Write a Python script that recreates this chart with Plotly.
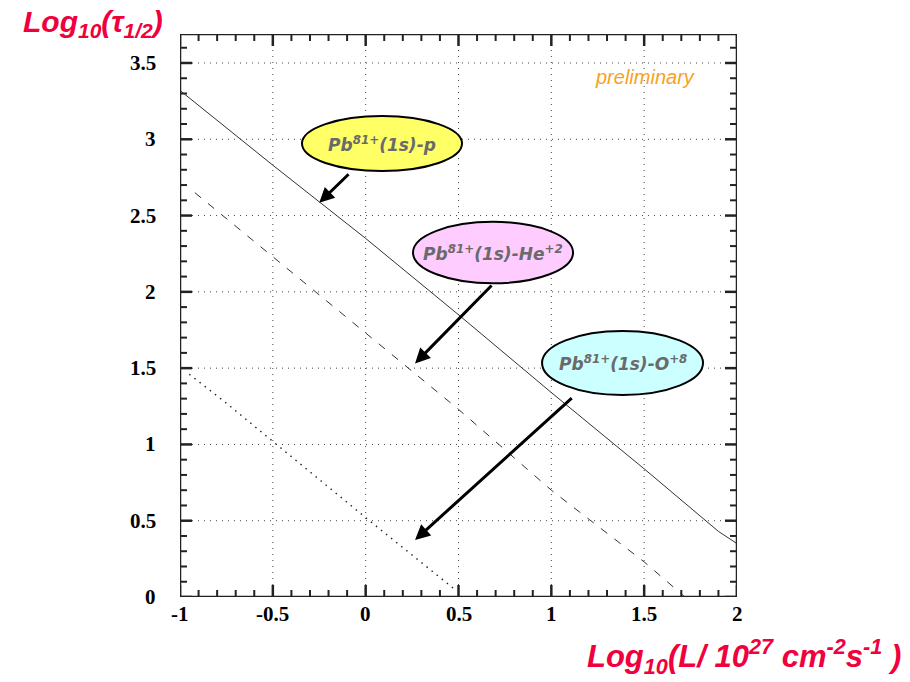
import numpy as np
import plotly.graph_objects as go

# Half-life vs. luminosity for Pb81+(1s) colliding with p, He+2 and O+8
x_p = [-1.0, -0.5, 0.0, 0.5, 1.0, 1.5, 1.9, 2.0]
y_p = [3.32, 2.83, 2.35, 1.85, 1.34, 0.84, 0.43, 0.35]

x_he = [-0.92, -0.5, 0.0, 0.5, 1.0, 1.5, 1.72]
y_he = [2.65, 2.23, 1.73, 1.23, 0.70, 0.23, 0.0]

x_o = [-0.95, -0.75, -0.5, 0.0, 0.49]
y_o = [1.46, 1.27, 1.02, 0.52, 0.04]

x_ticks = [-1, -0.5, 0, 0.5, 1, 1.5, 2]
x_ticklabels = ["-1", "-0.5", "0", "0.5", "1", "1.5", "2"]
y_ticks = [0, 0.5, 1, 1.5, 2, 2.5, 3, 3.5]
y_ticklabels = ["0", "0.5", "1", "1.5", "2", "2.5", "3", "3.5"]

X_RANGE = (-1.0, 2.0)
Y_RANGE = (0.0, 3.69)

W, H = 910, 682
L, R, T, B = 180, 737, 34, 597  # plot frame in pixels
PW, PH = R - L, B - T
PPX = PW / (X_RANGE[1] - X_RANGE[0])  # pixels per x unit
PPY = PH / (Y_RANGE[1] - Y_RANGE[0])  # pixels per y unit


def px(xp):
    return (xp - L) / PW


def py(yp):
    return (B - yp) / PH


def segments(pairs):
    xs, ys = [], []
    for (xa, ya), (xb, yb) in pairs:
        xs += [xa, xb, None]
        ys += [ya, yb, None]
    return xs, ys


fig = go.Figure()
frame_col = "#222222"
x0, x1 = X_RANGE
y0, y1 = Y_RANGE

# dotted grid at the major tick positions
grid = [((v, y0), (v, y1)) for v in x_ticks[1:-1]] + \
       [((x0, v), (x1, v)) for v in y_ticks[1:]]
gx, gy = segments(grid)
fig.add_trace(go.Scatter(x=gx, y=gy, mode="lines", hoverinfo="skip",
                         line=dict(color="#444444", width=1, dash="1px,5px")))

# inward ticks on all four sides: major every 0.5, minor every 0.1
major, minor = [], []
for v in np.round(np.arange(x0, x1 + 1e-9, 0.1), 2):
    is_major = abs(v * 2 - round(v * 2)) < 1e-6
    ln = (12 if is_major else 7) / PPY
    segs = [((v, y0), (v, y0 + ln)), ((v, y1), (v, y1 - ln))]
    (major if is_major else minor).extend(segs)
for v in np.round(np.arange(y0, 3.6 + 1e-9, 0.1), 2):
    is_major = abs(v * 2 - round(v * 2)) < 1e-6
    ln = (12 if is_major else 7) / PPX
    segs = [((x0, v), (x0 + ln, v)), ((x1, v), (x1 - ln, v))]
    (major if is_major else minor).extend(segs)
for segs, w in ((minor, 2), (major, 2.5)):
    tx, ty = segments(segs)
    fig.add_trace(go.Scatter(x=tx, y=ty, mode="lines", hoverinfo="skip",
                             cliponaxis=False,
                             line=dict(color=frame_col, width=w)))

line_col = "#333333"
fig.add_trace(go.Scatter(x=x_p, y=y_p, mode="lines",
                         line=dict(color=line_col, width=1)))
fig.add_trace(go.Scatter(x=x_he, y=y_he, mode="lines",
                         line=dict(color=line_col, width=1, dash="8px,9px")))
fig.add_trace(go.Scatter(x=x_o, y=y_o, mode="lines",
                         line=dict(color="#222222", width=1.4, dash="1.5px,5px")))

# frame
fig.add_trace(go.Scatter(x=[x0, x1, x1, x0, x0], y=[y0, y0, y1, y1, y0],
                         mode="lines", hoverinfo="skip", cliponaxis=False,
                         line=dict(color=frame_col, width=2.5)))

fig.update_xaxes(range=list(X_RANGE), showgrid=False, zeroline=False,
                 showline=False, ticks="", showticklabels=False)
fig.update_yaxes(range=list(Y_RANGE), showgrid=False, zeroline=False,
                 showline=False, ticks="", showticklabels=False)

# Tick labels (bold serif, plain hyphen minus)
tick_font = dict(family="Liberation Serif", size=21, color="black")
for v, t in zip(x_ticks, x_ticklabels):
    fig.add_annotation(x=v, y=py(614), xref="x", yref="paper", text=f"<b>{t}</b>",
                       showarrow=False, xanchor="center", yanchor="middle",
                       font=tick_font)
for v, t in zip(y_ticks, y_ticklabels):
    fig.add_annotation(x=px(158), y=v, xref="paper", yref="y", text=f"<b>{t}</b>",
                       showarrow=False, xanchor="right", yanchor="middle",
                       font=tick_font)

# Labelled ellipses
ellipses = [
    dict(x0=-0.343, x1=0.519, y0=2.792, y1=3.152, fill="#ffff66",
         text="Pb<sup>81+</sup>(1s)-p"),
    dict(x0=0.255, x1=1.117, y0=2.056, y1=2.459, fill="#ffccff",
         text="Pb<sup>81+</sup>(1s)-He<sup>+2</sup>"),
    dict(x0=0.950, x1=1.817, y0=1.324, y1=1.743, fill="#ccffff",
         text="Pb<sup>81+</sup>(1s)-O<sup>+8</sup>"),
]
for e in ellipses:
    fig.add_shape(type="circle", xref="x", yref="y",
                  x0=e["x0"], x1=e["x1"], y0=e["y0"], y1=e["y1"],
                  fillcolor=e["fill"], line=dict(color="black", width=2),
                  layer="above")
    fig.add_annotation(x=(e["x0"] + e["x1"]) / 2, y=(e["y0"] + e["y1"]) / 2,
                       xref="x", yref="y", text=f"<b><i>{e['text']}</i></b>",
                       showarrow=False, xanchor="center", yanchor="middle",
                       font=dict(family="DejaVu Sans", size=17, color="#6a6a6a"))

# Arrows pointing at the curves
arrows = [
    ((-0.084, 2.780), (-0.250, 2.584)),
    ((0.686, 2.051), (0.266, 1.531)),
    ((1.118, 1.313), (0.266, 0.374)),
]
for (tx_, ty_), (hx, hy) in arrows:
    fig.add_annotation(x=hx, y=hy, ax=tx_, ay=ty_, xref="x", yref="y",
                       axref="x", ayref="y", text="", showarrow=True,
                       arrowhead=2, arrowsize=1, arrowwidth=3,
                       arrowcolor="black")

red = "#f0003c"
fig.add_annotation(x=px(21), y=py(3), xref="paper", yref="paper",
                   xanchor="left", yanchor="top", showarrow=False,
                   text="<b><i>Log<sub>10</sub>(τ<sub>1/2</sub>)</i></b>",
                   font=dict(family="Liberation Sans", size=30, color=red))
fig.add_annotation(x=px(903), y=py(681), xref="paper", yref="paper",
                   xanchor="right", yanchor="bottom", showarrow=False,
                   text="<b><i>Log<sub>10</sub>(L/ 10<sup>27</sup> cm<sup>-2</sup>"
                        "s<sup>-1</sup> )</i></b>",
                   font=dict(family="Liberation Sans", size=31, color=red))
fig.add_annotation(x=px(645), y=py(77), xref="paper", yref="paper",
                   xanchor="center", yanchor="middle",
                   showarrow=False, text="<i>preliminary</i>",
                   font=dict(family="Liberation Sans", size=20, color="#f9a11b"))

fig.update_layout(
    width=W, height=H, showlegend=False,
    margin=dict(l=L, r=W - R, t=T, b=H - B, pad=0),
    plot_bgcolor="white", paper_bgcolor="white",
)

fig.write_html("out.html")
